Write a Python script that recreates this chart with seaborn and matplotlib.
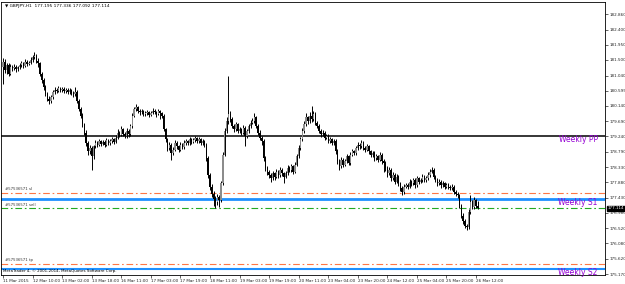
import numpy as np
import matplotlib
matplotlib.use("Agg")
import matplotlib.pyplot as plt
import seaborn as sns

# GBPJPY H1 candles
closes = [
    181.45, 181.20, 181.35, 181.10, 181.30, 181.25, 181.30, 181.22, 181.28, 181.35,
    181.40, 181.33, 181.45, 181.38, 181.42, 181.50, 181.58, 181.62, 181.48, 181.40,
    181.10, 180.90, 180.70, 180.50, 180.35, 180.28, 180.40, 180.55, 180.62, 180.58,
    180.66, 180.60, 180.64, 180.58, 180.62, 180.55, 180.60, 180.52, 180.48, 180.55,
    180.30, 180.05, 179.85, 179.60, 179.35, 179.05, 178.80, 178.90, 178.65, 178.95,
    179.05, 179.00, 179.10, 179.02, 179.08, 179.00, 179.12, 179.05, 179.10, 179.15,
    179.08, 179.20, 179.35, 179.28, 179.45, 179.30, 179.25, 179.40, 179.30, 179.55,
    179.85, 180.05, 180.10, 180.00, 179.95, 179.98, 179.90, 179.92, 179.95, 179.88,
    179.93, 180.00, 179.95, 179.90, 179.98, 179.92, 179.85, 179.45, 179.15, 178.90,
    179.00, 178.75, 178.85, 179.05, 178.95, 178.85, 179.00, 178.92, 179.05, 179.10,
    179.05, 179.15, 179.08, 179.12, 179.18, 179.10, 179.15, 179.05, 179.10, 179.00,
    178.60, 178.10, 177.75, 177.55, 177.40, 177.30, 177.45, 177.35, 177.85, 178.70,
    179.40, 179.70, 179.90, 179.75, 179.55, 179.45, 179.60, 179.40, 179.45, 179.35,
    179.50, 179.25, 179.40, 179.55, 179.65, 179.70, 179.80, 179.55, 179.35, 179.20,
    179.10, 178.60, 178.30, 178.20, 178.10, 178.00, 178.15, 178.05, 178.20, 178.10,
    178.25, 178.15, 178.05, 178.15, 178.30, 178.25, 178.35, 178.20, 178.40, 178.65,
    178.90, 179.15, 179.40, 179.60, 179.80, 179.70, 179.85, 179.75, 179.90, 179.65,
    179.55, 179.40, 179.30, 179.35, 179.20, 179.25, 179.10, 179.15, 179.05, 179.10,
    178.80, 178.50, 178.35, 178.55, 178.40, 178.50, 178.65, 178.45, 178.70, 178.80,
    178.75, 178.90, 179.00, 178.95, 179.05, 178.90, 178.85, 178.95, 178.80, 178.70,
    178.75, 178.60, 178.65, 178.55, 178.70, 178.50, 178.45, 178.30, 178.15, 178.25,
    178.00, 178.10, 177.90, 178.05, 177.85, 177.70, 177.60, 177.75, 177.80, 177.75,
    177.90, 177.85, 177.95, 177.80, 178.00, 177.90, 177.95, 178.05, 177.95, 178.00,
    178.10, 178.20, 178.25, 178.05, 177.95, 177.85, 177.90, 177.80, 177.85, 177.75,
    177.80, 177.75, 177.70, 177.75, 177.60, 177.55, 177.50, 177.20, 176.90, 176.75,
    176.60, 176.55, 177.00, 177.30, 177.15, 177.35, 177.195, 177.114,
]
highs = [
    181.55, 181.52, 181.42, 181.40, 181.38, 181.36, 181.37, 181.34, 181.33, 181.41,
    181.47, 181.44, 181.52, 181.50, 181.48, 181.60, 181.66, 181.75, 181.68, 181.55,
    181.45, 181.15, 180.96, 180.76, 180.56, 180.42, 180.47, 180.62, 180.70, 180.68,
    180.74, 180.71, 180.70, 180.69, 180.68, 180.66, 180.67, 180.65, 180.58, 180.70,
    180.60, 180.35, 180.10, 179.92, 179.65, 179.42, 179.10, 178.98, 178.96, 179.00,
    179.12, 179.10, 179.16, 179.14, 179.14, 179.12, 179.18, 179.16, 179.16, 179.22,
    179.20, 179.27, 179.45, 179.40, 179.55, 179.50, 179.36, 179.48, 179.45, 179.62,
    179.92, 180.12, 180.20, 180.14, 180.06, 180.05, 180.02, 179.99, 180.02, 180.00,
    179.99, 180.07, 180.05, 179.99, 180.05, 180.02, 179.96, 179.90, 179.50, 179.20,
    179.08, 179.04, 178.92, 179.12, 179.10, 179.00, 179.07, 179.05, 179.12, 179.17,
    179.14, 179.22, 179.19, 179.18, 179.25, 179.22, 179.21, 179.19, 179.16, 179.14,
    179.05, 178.66, 178.15, 177.82, 177.62, 177.48, 177.55, 177.52, 177.92, 178.78,
    179.50, 179.80, 181.03, 180.00, 179.80, 179.62, 179.68, 179.65, 179.52, 179.50,
    179.58, 179.55, 179.46, 179.62, 179.72, 179.78, 179.93, 179.85, 179.60, 179.42,
    179.26, 179.15, 178.65, 178.36, 178.26, 178.16, 178.22, 178.20, 178.28, 178.25,
    178.32, 178.30, 178.20, 178.22, 178.38, 178.35, 178.42, 178.40, 178.48, 178.72,
    178.98, 179.22, 179.48, 179.70, 179.92, 179.85, 179.95, 180.15, 180.00, 179.95,
    179.70, 179.60, 179.46, 179.42, 179.40, 179.32, 179.30, 179.22, 179.20, 179.16,
    179.15, 178.86, 178.56, 178.62, 178.60, 178.58, 178.72, 178.70, 178.78, 178.88,
    178.85, 178.97, 179.08, 179.05, 179.12, 179.10, 178.95, 179.02, 179.00, 178.85,
    178.82, 178.80, 178.72, 178.70, 178.78, 178.75, 178.56, 178.50, 178.36, 178.32,
    178.30, 178.18, 178.15, 178.12, 178.10, 177.90, 177.76, 177.82, 177.87, 177.85,
    177.97, 177.95, 178.02, 178.00, 178.07, 178.05, 178.02, 178.12, 178.10, 178.07,
    178.18, 178.28, 178.32, 178.30, 178.10, 178.00, 177.97, 177.95, 177.92, 177.90,
    177.86, 177.85, 177.80, 177.82, 177.80, 177.66, 177.60, 177.55, 177.25, 176.96,
    176.80, 176.65, 177.08, 177.52, 177.36, 177.45, 177.40, 177.336,
]
lows = [
    180.79, 181.12, 181.10, 181.02, 181.05, 181.18, 181.20, 181.15, 181.17, 181.24,
    181.30, 181.27, 181.30, 181.32, 181.34, 181.38, 181.45, 181.52, 181.42, 181.30,
    181.02, 180.82, 180.62, 180.42, 180.28, 180.20, 180.24, 180.36, 180.50, 180.52,
    180.54, 180.55, 180.56, 180.52, 180.53, 180.48, 180.50, 180.45, 180.40, 180.44,
    180.24, 179.98, 179.78, 179.52, 179.28, 178.96, 178.70, 178.72, 178.25, 178.58,
    178.90, 178.93, 178.95, 178.96, 178.98, 178.94, 178.96, 178.99, 179.00, 179.04,
    179.02, 179.04, 179.16, 179.22, 179.24, 179.25, 179.18, 179.20, 179.22, 179.26,
    179.50, 179.80, 179.98, 179.94, 179.88, 179.90, 179.84, 179.85, 179.87, 179.82,
    179.84, 179.89, 179.89, 179.82, 179.86, 179.75, 179.78, 179.40, 179.08, 178.82,
    178.84, 178.54, 178.68, 178.80, 178.88, 178.78, 178.80, 178.86, 178.88, 179.00,
    178.98, 179.00, 179.02, 179.03, 179.07, 179.04, 179.05, 178.98, 179.00, 178.92,
    178.52, 178.00, 177.65, 177.45, 177.18, 177.12, 177.22, 177.15, 177.30, 177.80,
    178.65, 179.35, 179.62, 179.68, 179.48, 179.38, 179.40, 179.34, 179.33, 179.28,
    179.30, 178.95, 179.20, 179.35, 179.50, 179.60, 179.65, 179.48, 179.28, 179.12,
    178.98, 178.52, 178.22, 178.10, 178.02, 177.90, 177.95, 177.96, 178.00, 178.02,
    178.05, 178.08, 177.85, 178.00, 178.10, 178.18, 178.20, 178.12, 178.15, 178.35,
    178.60, 178.85, 179.10, 179.35, 179.55, 179.62, 179.65, 179.68, 179.70, 179.58,
    179.48, 179.34, 179.22, 179.25, 179.14, 179.15, 179.04, 179.05, 178.98, 179.00,
    178.72, 178.42, 178.25, 178.30, 178.32, 178.35, 178.45, 178.38, 178.40, 178.65,
    178.68, 178.70, 178.85, 178.88, 178.90, 178.84, 178.78, 178.80, 178.72, 178.62,
    178.64, 178.52, 178.55, 178.48, 178.50, 178.42, 178.20, 178.22, 178.05, 178.10,
    177.92, 177.95, 177.82, 177.85, 177.78, 177.62, 177.52, 177.55, 177.70, 177.68,
    177.70, 177.78, 177.80, 177.72, 177.75, 177.84, 177.85, 177.90, 177.88, 177.90,
    177.95, 178.05, 178.15, 177.98, 177.88, 177.78, 177.80, 177.72, 177.75, 177.68,
    177.70, 177.69, 177.64, 177.66, 177.54, 177.48, 177.42, 177.12, 176.82, 176.66,
    176.52, 176.47, 176.50, 176.95, 177.08, 177.10, 177.12, 177.092,
]
first_open = 181.30

# horizontal levels
weekly_pp = 179.25
weekly_s1 = 177.39
weekly_s2 = 175.32
order_sl = 177.57
order_entry = 177.11
order_tp = 175.47
order_id = "#57536571"

# axis labels
time_labels = ["11 Mar 2015", "12 Mar 10:00", "13 Mar 02:00", "13 Mar 18:00",
               "16 Mar 11:00", "17 Mar 03:00", "17 Mar 19:00", "18 Mar 11:00",
               "19 Mar 03:00", "19 Mar 19:00", "20 Mar 11:00", "23 Mar 04:00",
               "23 Mar 20:00", "24 Mar 12:00", "25 Mar 04:00", "25 Mar 20:00",
               "26 Mar 12:00"]
bars_per_label = 16
price_ticks = [175.170, 175.620, 176.080, 176.520, 176.980, 177.430, 177.880,
               178.330, 178.790, 179.240, 179.690, 180.140, 180.595, 181.040,
               181.500, 181.950, 182.400, 182.860]
title = "\u25bc GBPJPY,H1  177.195 177.336 177.092 177.114"

sns.set_style("white")
plt.rcParams["font.family"] = ["DejaVu Sans"]

opens = [first_open] + closes[:-1]
idx = np.arange(len(closes))
o = np.array(opens)
c = np.array(closes)

fig = plt.figure(figsize=(6.25, 2.84), dpi=100)
ax = fig.add_axes([1 / 625, 9 / 284, 604 / 625, 273 / 284])

# candles
ax.vlines(idx, lows, highs, color="black", lw=0.7, zorder=3)
bull = c >= o
ax.bar(idx[bull], (c - o)[bull], bottom=o[bull], width=0.75,
       color="#8c8c8c", lw=0, zorder=4)
ax.bar(idx[~bull], (c - o)[~bull], bottom=o[~bull], width=0.75,
       color="black", lw=0, zorder=4)

# pivot lines
ax.axhline(weekly_pp, color="black", lw=1.1, zorder=2)
ax.axhline(weekly_s1, color="#1e90ff", lw=2.0, zorder=2)
ax.axhline(weekly_s2, color="#1e90ff", lw=1.5, zorder=2)

# order lines
dashdot = (0, (6, 2.5, 1.5, 2.5))
ax.axhline(order_sl, color="#ff7744", lw=0.8, ls=dashdot, zorder=2)
ax.axhline(order_entry, color="#22aa22", lw=0.8, ls=dashdot, zorder=2)
ax.axhline(order_tp, color="#ff7744", lw=0.8, ls=dashdot, zorder=2)

ytr = ax.get_yaxis_transform()
for lvl, name in [(order_sl, " sl"), (order_entry, " sell"), (order_tp, " tp")]:
    ax.annotate(order_id + name, xy=(0.006, lvl), xycoords=ytr,
                xytext=(0, 1.2), textcoords="offset points",
                fontsize=2.8, color="#333333", va="bottom")

for lvl, name in [(weekly_pp, "Weekly PP"), (weekly_s1, "Weekly S1"),
                  (weekly_s2, "Weekly S2")]:
    ax.annotate(name, xy=(0.988, lvl), xycoords=ytr,
                xytext=(0, -2.4), textcoords="offset points",
                fontsize=5.5, color="#9400d3", ha="right", va="center")

# current price box
ax.annotate(f"{closes[-1]:.3f}", xy=(1.0, closes[-1]), xycoords=ytr,
            xytext=(2.2, 0), textcoords="offset points",
            fontsize=3, color="white", va="center", ha="left",
            bbox=dict(boxstyle="square,pad=0.15", fc="black", ec="black"),
            annotation_clip=False)

ax.text(0.006, 0.993, title, transform=ax.transAxes, fontsize=3.1,
        va="top", ha="left", color="black")
ax.text(0.004, 0.006, "MetaTrader 4, \u00a9 2001-2014, MetaQuotes Software Corp.",
        transform=ax.transAxes, fontsize=2.9, va="bottom", ha="left",
        color="black")

# axes
k = (price_ticks[-1] - price_ticks[0]) / 260.0
ax.set_ylim(price_ticks[0] - 1 * k, price_ticks[0] + 272 * k)
ax.set_xlim(-1.08, 325.8)
ax.yaxis.tick_right()
ax.set_yticks(price_ticks)
ax.set_yticklabels([f"{p:.3f}" for p in price_ticks])
ax.set_xticks(np.arange(len(time_labels)) * bars_per_label)
ax.set_xticklabels(time_labels, ha="left")
ax.tick_params(axis="y", length=2, width=0.5, pad=1, labelsize=3,
               right=True, left=False)
ax.tick_params(axis="x", length=2, width=0.5, pad=1, labelsize=3,
               bottom=True)
for s in ax.spines.values():
    s.set_color("black")
    s.set_linewidth(0.6)

fig.savefig("out.png", dpi=100, facecolor="white")
